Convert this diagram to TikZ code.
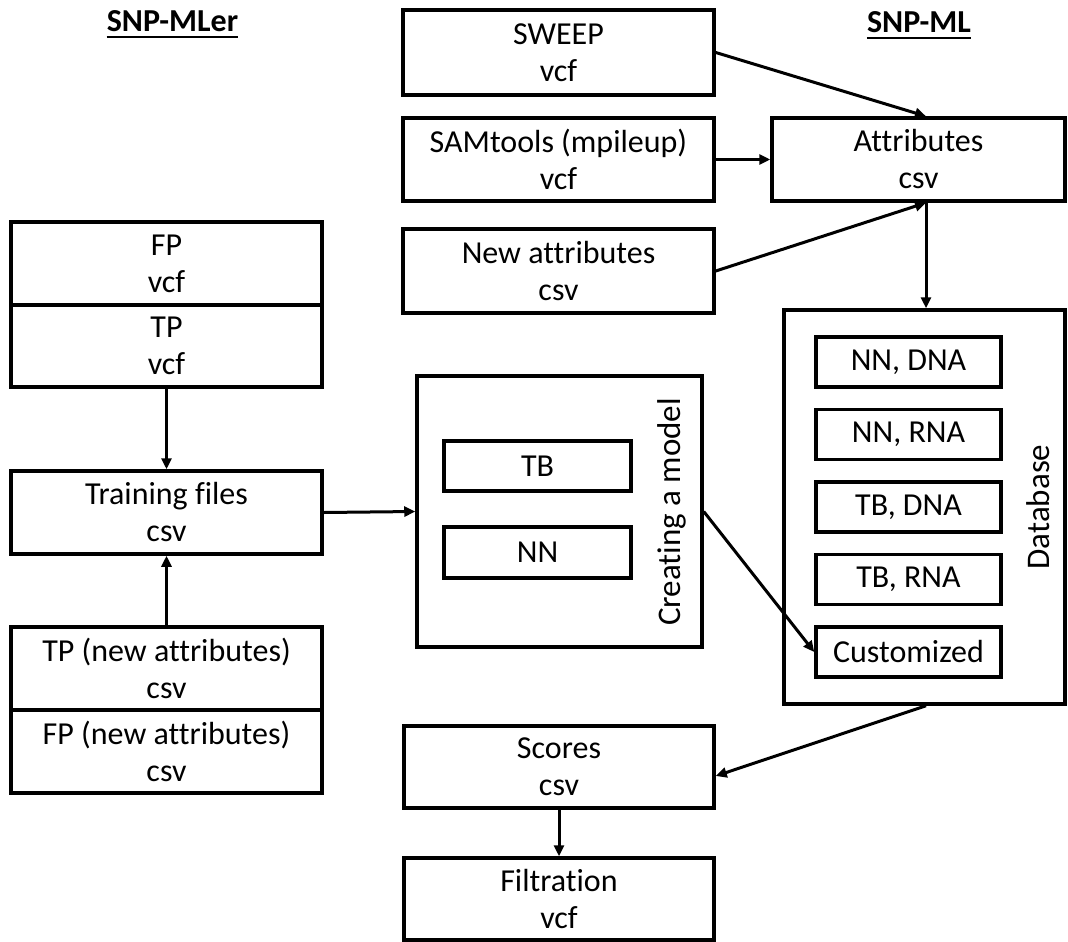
\documentclass[tikz,border=0pt]{standalone}
\usepackage{fontspec}
\setmainfont{Carlito}[Ligatures=NoCommon]
\usetikzlibrary{arrows.meta,calc}
\begin{document}
\begin{tikzpicture}[x=1pt,y=-1pt,
  txt/.style={font=\fontsize{32}{37}\selectfont},
  box/.style={draw, line width=3.5pt, inner sep=0pt, align=center, txt},
  wbox/.style={box, minimum width=311pt, minimum height=83pt},
  ibox/.style={box, minimum width=185pt, minimum height=50pt},
  ttl/.style={font=\fontsize{32}{37}\selectfont\bfseries, inner sep=0pt, anchor=base},
  uline/.style={line width=2.5pt},
  rot/.style={rotate=90, inner sep=0pt, font=\fontsize{33}{37}\selectfont},
  arr/.style={line width=3pt, -{Triangle[length=11pt,width=10pt]}}
]
\useasboundingbox (0,0) rectangle (1068,942);

% titles
\node[ttl] (mler) at (172.5,32) {SNP-MLer};
\draw[uline] ([yshift=-5pt]mler.base west) -- ([yshift=-5pt]mler.base east);
\node[ttl] (ml) at (919,33) {SNP-ML};
\draw[uline] ([yshift=-5pt]ml.base west) -- ([yshift=-5pt]ml.base east);

% middle column
\node[wbox, minimum height=85pt] (sweep) at (558.5,52.5) {SWEEP\\vcf};
\node[wbox] (sam) at (558.5,159.5) {SAMtools (mpileup)\\vcf};
\node[wbox, minimum height=84pt] (newattr) at (558.5,271) {New attributes\\csv};
\node[box, minimum width=293pt, minimum height=83pt] (attr) at (918.5,159.5) {Attributes\\csv};

% database
\node[draw, line width=3.5pt, minimum width=281pt, minimum height=394pt, inner sep=0pt] (db) at (924.5,507) {};
\node[ibox] (nndna) at (908.5,362) {NN, DNA};
\node[ibox] (nnrna) at (908.5,434.5) {NN, RNA};
\node[ibox] (tbdna) at (908.5,507) {TB, DNA};
\node[ibox] (tbrna) at (908.5,579.5) {TB, RNA};
\node[ibox] (cust) at (908.5,652) {Customized};
\node[rot] (dbl) at (1038,507) {Database};

% creating a model
\node[draw, line width=3.5pt, minimum width=285pt, minimum height=271pt, inner sep=0pt] (create) at (559.5,511.5) {};
\node[box, minimum width=187pt, minimum height=50pt] (tb) at (537.5,466) {TB};
\node[box, minimum width=187pt, minimum height=51pt] (nn) at (537.5,552.5) {NN};
\node[rot] (cml) at (672,512) {Creating a model};

% left column
\node[wbox] (fp) at (166.5,263.5) {FP\\vcf};
\node[wbox, minimum height=82pt] (tp) at (166.5,346) {TP\\vcf};
\node[wbox] (train) at (166.5,512.5) {Training files\\csv};
\node[wbox] (tpn) at (166.5,668.5) {TP (new attributes)\\csv};
\node[wbox] (fpn) at (166.5,751.5) {FP (new attributes)\\csv};

% bottom
\node[box, minimum width=310pt, minimum height=82pt] (scores) at (559,767) {Scores\\csv};
\node[box, minimum width=310pt, minimum height=82pt] (filt) at (559,899) {Filtration\\vcf};

% connectors
\coordinate (ax) at (926,0);
\coordinate (sin) at ($(scores.east)+(0,9)$);
\draw[arr] (sweep.east) -- (attr.north -| ax);
\draw[arr] (sam.east) -- (attr.west);
\draw[arr] (newattr.east) -- (attr.south -| ax);
\draw[arr] (attr.south -| ax) -- (db.north -| ax);
\draw[arr] (tp.south) -- (train.north);
\draw[arr] (tpn.north) -- (train.south);
\draw[arr] (train.east) -- (create.west);
\draw[arr] (create.east) -- (cust.west);
\draw[arr] (db.south -| ax) -- (sin);
\draw[arr] (scores.south) -- (filt.north);
\end{tikzpicture}
\end{document}
